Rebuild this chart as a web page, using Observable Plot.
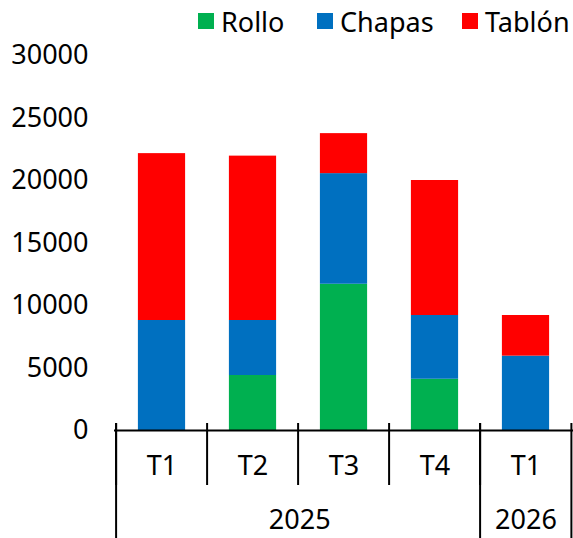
<!DOCTYPE html>
<html>
<head>
<meta charset="utf-8">
<script src="https://cdn.jsdelivr.net/npm/d3@7"></script>
<script src="https://cdn.jsdelivr.net/npm/@observablehq/plot@0.6"></script>
<style>
  html, body { margin: 0; padding: 0; background: #fff; }
  body { width: 573px; height: 538px; overflow: hidden; font-family: "Noto Sans", sans-serif; }
  #legend { position: relative; height: 40px; width: 573px; }
  .item { position: absolute; top: 4px; height: 34px; display: flex; align-items: center; font-size: 27px; color: #000; line-height: 1; }
  .sw { width: 16px; height: 16px; margin-right: 7px; }
</style>
</head>
<body>
<div id="legend"></div>
<div id="chart"></div>
<script>
// ---- data ----
const quarters = ["T1", "T2", "T3", "T4", "T1"];
const years = ["2025", "2025", "2025", "2025", "2026"];
const seriesNames = ["Rollo", "Chapas", "Tablón"];
const rollo = [0, 4400, 11700, 4100, 0];
const chapas = [8800, 4400, 8850, 5100, 5950];
const tablon = [13350, 13150, 3200, 10800, 3250];
const yTicks = [0, 5000, 10000, 15000, 20000, 25000, 30000];
const colors = ["#00B050", "#0070C0", "#FF0000"];

// ---- build table ----
const keys = quarters.map((q, i) => years[i] + "-" + q);
const seriesValues = [rollo, chapas, tablon];
const table = [];
seriesNames.forEach((s, si) => {
  keys.forEach((k, i) => table.push({key: k, series: s, value: seriesValues[si][i]}));
});

// ---- layout ----
const width = 573, height = 498;
const marginLeft = 114, marginRight = 0, marginTop = 15, marginBottom = 108;
const bw = (width - marginLeft - marginRight) / keys.length;
const barW = 48;
const inset = (bw - barW) / 2;
const frameH = height - marginTop - marginBottom;

// year groups
const groups = [];
years.forEach((y, i) => {
  const last = groups[groups.length - 1];
  if (last && last.year === y) last.n++;
  else groups.push({year: y, first: keys[i], n: 1});
});
const yearStarts = groups.map(g => g.first);

// legend
const legend = document.getElementById("legend");
const legendX = [198, 317, 462];
seriesNames.forEach((s, i) => {
  const it = document.createElement("div");
  it.className = "item";
  it.style.left = legendX[i] + "px";
  it.innerHTML = `<span class="sw" style="background:${colors[i]}"></span><span>${s}</span>`;
  legend.appendChild(it);
});

const lineStyle = {stroke: "#000", strokeWidth: 2};

const chart = Plot.plot({
  width, height, marginLeft, marginRight, marginTop, marginBottom,
  style: {fontFamily: "'Noto Sans', sans-serif", fontSize: "27px", color: "#000", background: "#fff", overflow: "visible"},
  x: {type: "band", domain: keys, padding: 0, axis: null},
  y: {domain: [0, 30000], axis: null},
  color: {domain: seriesNames, range: colors},
  marks: [
    Plot.barY(table, Plot.stackY({
      x: "key", y: "value", fill: "series", order: seriesNames,
      insetLeft: inset, insetRight: inset
    })),
    Plot.axisY({
      ticks: yTicks, tickSize: 0, tickPadding: 26, tickFormat: d3.format("d"),
      fontSize: 27, fill: "#000", anchor: "left", label: null
    }),
    Plot.ruleY([0], lineStyle),
    // quarter separators
    Plot.ruleX(keys, {x: d => d, dx: -bw / 2, insetTop: frameH - 7, insetBottom: -55, ...lineStyle}),
    // year separators
    Plot.ruleX(yearStarts, {x: d => d, dx: -bw / 2, insetTop: frameH - 7, insetBottom: -marginBottom, ...lineStyle}),
    Plot.ruleX([keys[keys.length - 1]], {x: d => d, dx: bw / 2 - 0.5, insetTop: frameH - 7, insetBottom: -marginBottom, ...lineStyle}),
    // quarter labels
    Plot.text(keys, {x: d => d, text: (d, i) => quarters[i], frameAnchor: "bottom", dy: 36, lineAnchor: "middle", fontSize: 27, fill: "#000"}),
    // year labels
    ...groups.map(g => Plot.text([g], {
      x: d => d.first, text: d => d.year, frameAnchor: "bottom", dy: 90,
      dx: (g.n - 1) * bw / 2, lineAnchor: "middle", fontSize: 27, fill: "#000"
    }))
  ]
});
document.getElementById("chart").appendChild(chart);
</script>
</body>
</html>
